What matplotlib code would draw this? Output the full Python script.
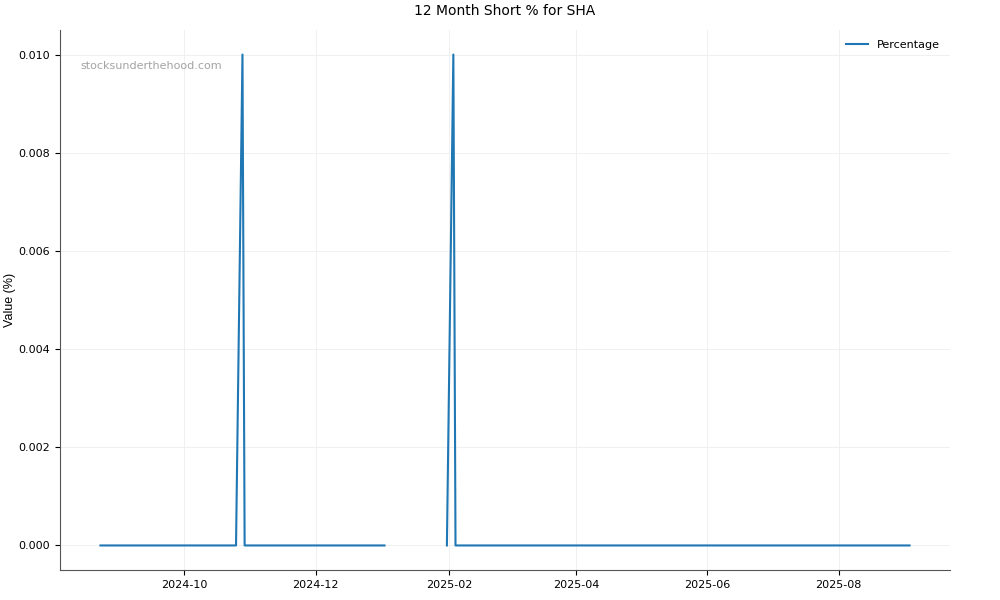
import matplotlib
matplotlib.use("Agg")
import matplotlib.pyplot as plt
import matplotlib.dates as mdates
import numpy as np
import pandas as pd

dates = ["2024-08-23", "2024-10-25", "2024-10-28", "2024-10-29", "2025-01-02",
         "2025-01-15", "2025-01-31", "2025-02-03", "2025-02-04", "2025-09-03"]
values = [0.0, 0.0, 0.01, 0.0, 0.0, np.nan, 0.0, 0.01, 0.0, 0.0]
series_label = "Percentage"
title = "12 Month Short % for SHA"

x = pd.to_datetime(dates)

fig, ax = plt.subplots(figsize=(10, 6), dpi=100)
fig.subplots_adjust(left=0.06, right=0.95, top=0.95, bottom=0.05)

ax.plot(x, values, color="#1f77b4", linewidth=1.5, label=series_label)

ax.set_title(title, fontsize=10, pad=10.5)
ax.set_ylabel("Value (%)", fontsize=9, family="Liberation Sans", labelpad=2)
ax.tick_params(labelsize=8)
ax.grid(True, color="#eeeeee", linewidth=0.6)
ax.set_axisbelow(True)
for s in ["top", "right"]:
    ax.spines[s].set_visible(False)
for s in ["left", "bottom"]:
    ax.spines[s].set_color("#555555")

ax.xaxis.set_major_locator(mdates.MonthLocator(bymonth=[2, 4, 6, 8, 10, 12]))
ax.xaxis.set_major_formatter(mdates.DateFormatter("%Y-%m"))
ax.yaxis.set_major_formatter(matplotlib.ticker.FormatStrFormatter("%.3f"))

ax.text(0.023, 0.942, "stocksunderthehood.com", transform=ax.transAxes,
        fontsize=8, color="#999999", alpha=0.9, va="top", ha="left")

ax.legend(loc="upper right", frameon=False, fontsize=8)

fig.savefig("out.png", dpi=100)
